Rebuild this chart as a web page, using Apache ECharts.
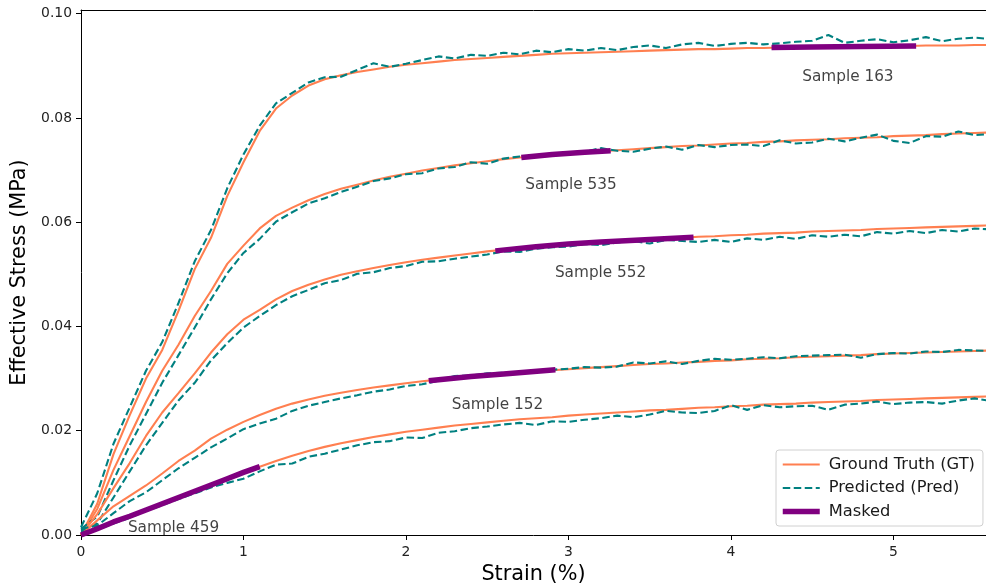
<!DOCTYPE html>
<html>
<head>
<meta charset="utf-8">
<script src="https://cdn.jsdelivr.net/npm/echarts@6/dist/echarts.min.js"></script>
<style>
  html, body { margin: 0; padding: 0; background: #ffffff; }
  #chart { width: 986px; height: 585px; }
</style>
</head>
<body>
<div id="chart"></div>
<script>
// Strain grid shared by all curves (%)
const strain = [0.0, 0.1, 0.2, 0.3, 0.4, 0.5, 0.6, 0.7, 0.8, 0.9,
  1.0, 1.1, 1.2, 1.3, 1.4, 1.5, 1.6, 1.7, 1.8, 1.9,
  2.0, 2.1, 2.2, 2.3, 2.4, 2.5, 2.6, 2.7, 2.8, 2.9,
  3.0, 3.1, 3.2, 3.3, 3.4, 3.5, 3.6, 3.7, 3.8, 3.9,
  4.0, 4.1, 4.2, 4.3, 4.4, 4.5, 4.6, 4.7, 4.8, 4.9,
  5.0, 5.1, 5.2, 5.3, 5.4, 5.5, 5.6];

// Sample 163
const gt163 = [0.0, 0.006, 0.0155, 0.023, 0.030, 0.0355, 0.043, 0.051, 0.057, 0.065,
  0.0715, 0.0775, 0.0818, 0.0843, 0.0862, 0.0874, 0.0882, 0.0888, 0.0893, 0.0898,
  0.0902, 0.0905, 0.0908, 0.0911, 0.0913, 0.0915, 0.0917, 0.0919, 0.0921, 0.0923,
  0.0924, 0.0925, 0.0926, 0.0927, 0.0928, 0.0929, 0.0930, 0.0931, 0.0932, 0.0932,
  0.0933, 0.0934, 0.0934, 0.0935, 0.0935, 0.0936, 0.0936, 0.0937, 0.0937, 0.0938,
  0.0938, 0.0938, 0.0939, 0.0939, 0.0939, 0.0940, 0.0940];
const pred163 = [0.0015, 0.008, 0.0175, 0.0245, 0.0315, 0.037, 0.0445, 0.0525, 0.0585, 0.0665,
  0.073, 0.0785, 0.0828, 0.0848, 0.0868, 0.0878, 0.0879, 0.0892, 0.0905, 0.0898,
  0.0904, 0.0911, 0.0918, 0.0914, 0.0921, 0.0919, 0.0925, 0.0922, 0.0929, 0.0926,
  0.0932, 0.0929, 0.0934, 0.0930, 0.0936, 0.0939, 0.0934, 0.0941, 0.0944, 0.0938,
  0.0942, 0.0944, 0.0941, 0.0943, 0.0946, 0.0948, 0.0959, 0.0944, 0.0948, 0.0951,
  0.0945, 0.0949, 0.0955, 0.0947, 0.0952, 0.0954, 0.0951];
const maskStrain163 = [4.25, 4.5, 4.8, 5.14];
const maskStress163 = [0.0935, 0.0936, 0.0937, 0.0938];

// Sample 535
const gt535 = [0.0, 0.005, 0.0125, 0.019, 0.0255, 0.0315, 0.0365, 0.042, 0.0468, 0.052,
  0.0555, 0.0588, 0.0612, 0.0628, 0.0642, 0.0654, 0.0664, 0.0672, 0.0680, 0.0687,
  0.0693, 0.0699, 0.0704, 0.0709, 0.0713, 0.0717, 0.0721, 0.0724, 0.0727, 0.0730,
  0.0732, 0.0734, 0.0736, 0.0738, 0.0740, 0.0742, 0.0744, 0.0746, 0.0747, 0.0749,
  0.0751, 0.0752, 0.0754, 0.0755, 0.0757, 0.0758, 0.0759, 0.0761, 0.0762, 0.0763,
  0.0765, 0.0766, 0.0767, 0.0769, 0.0770, 0.0771, 0.0772];
const pred535 = [0.0012, 0.0035, 0.0105, 0.0172, 0.0232, 0.0292, 0.0345, 0.0398, 0.0452, 0.0502,
  0.0541, 0.0568, 0.0601, 0.0619, 0.0636, 0.0646, 0.0658, 0.0668, 0.0679, 0.0684,
  0.0692, 0.0694, 0.0703, 0.0706, 0.0715, 0.0712, 0.0722, 0.0726, 0.0728, 0.0731,
  0.0733, 0.0735, 0.0742, 0.0737, 0.0735, 0.0741, 0.0745, 0.0739, 0.0748, 0.0744,
  0.0748, 0.0749, 0.0746, 0.0757, 0.0751, 0.0753, 0.0760, 0.0755, 0.0762, 0.0768,
  0.0756, 0.0752, 0.0765, 0.0764, 0.0774, 0.0767, 0.0769];
const maskStrain535 = [2.71, 2.9, 3.1, 3.26];
const maskStress535 = [0.0724, 0.0730, 0.0734, 0.0737];

// Sample 552
const gt552 = [0.0, 0.004, 0.009, 0.0138, 0.019, 0.0235, 0.0272, 0.031, 0.035, 0.0385,
  0.0413, 0.0432, 0.0452, 0.0468, 0.0480, 0.0490, 0.0499, 0.0506, 0.0512, 0.0518,
  0.0523, 0.0528, 0.0532, 0.0536, 0.0540, 0.0544, 0.0547, 0.0550, 0.0553, 0.0556,
  0.0558, 0.0560, 0.0562, 0.0564, 0.0566, 0.0567, 0.0569, 0.0570, 0.0572, 0.0573,
  0.0575, 0.0576, 0.0578, 0.0579, 0.0580, 0.0582, 0.0583, 0.0584, 0.0585, 0.0587,
  0.0588, 0.0589, 0.0590, 0.0591, 0.0592, 0.0593, 0.0594];
const pred552 = [0.0008, 0.0022, 0.0072, 0.0122, 0.0172, 0.0215, 0.0258, 0.0292, 0.0335, 0.0368,
  0.0398, 0.0420, 0.0441, 0.0458, 0.0470, 0.0483, 0.0489, 0.0501, 0.0504, 0.0512,
  0.0516, 0.0524, 0.0525, 0.0530, 0.0534, 0.0538, 0.0544, 0.0543, 0.0549, 0.0552,
  0.0553, 0.0558, 0.0556, 0.0561, 0.0564, 0.0559, 0.0566, 0.0564, 0.0562, 0.0566,
  0.0562, 0.0569, 0.0566, 0.0572, 0.0568, 0.0575, 0.0572, 0.0576, 0.0573, 0.0581,
  0.0578, 0.0583, 0.0579, 0.0585, 0.0582, 0.0588, 0.0586];
const maskStrain552 = [2.55, 2.8, 3.0, 3.2, 3.5, 3.77];
const maskStress552 = [0.0545, 0.0553, 0.0558, 0.0562, 0.0567, 0.0571];

// Sample 152
const gt152 = [0.0, 0.0028, 0.0055, 0.0075, 0.0095, 0.0118, 0.0142, 0.0162, 0.0185, 0.0202,
  0.0217, 0.0230, 0.0242, 0.0252, 0.0260, 0.0267, 0.0273, 0.0278, 0.0283, 0.0287,
  0.0291, 0.0295, 0.0298, 0.0301, 0.0304, 0.0307, 0.0309, 0.0312, 0.0314, 0.0316,
  0.0318, 0.0320, 0.0322, 0.0324, 0.0326, 0.0328, 0.0329, 0.0331, 0.0332, 0.0334,
  0.0335, 0.0337, 0.0338, 0.0339, 0.0341, 0.0342, 0.0343, 0.0344, 0.0345, 0.0347,
  0.0348, 0.0349, 0.0350, 0.0351, 0.0352, 0.0353, 0.0354];
const pred152 = [0.0012, 0.0018, 0.0042, 0.0065, 0.0082, 0.0105, 0.0128, 0.0148, 0.0168, 0.0185,
  0.0203, 0.0214, 0.0223, 0.0238, 0.0248, 0.0255, 0.0262, 0.0268, 0.0275, 0.0279,
  0.0286, 0.0289, 0.0296, 0.0305, 0.0306, 0.0310, 0.0311, 0.0313, 0.0315, 0.0317,
  0.0319, 0.0322, 0.0321, 0.0323, 0.0331, 0.0329, 0.0333, 0.0328, 0.0334, 0.0338,
  0.0336, 0.0338, 0.0341, 0.0339, 0.0343, 0.0344, 0.0345, 0.0346, 0.0340, 0.0347,
  0.0349, 0.0348, 0.0352, 0.0351, 0.0355, 0.0354, 0.0353];
const maskStrain152 = [2.14, 2.4, 2.6, 2.92];
const maskStress152 = [0.0296, 0.0304, 0.0309, 0.0317];

// Sample 459
const gt459 = [0.0, 0.0012, 0.0025, 0.0036, 0.0048, 0.0060, 0.0072, 0.0084, 0.0096, 0.0108,
  0.0120, 0.0131, 0.0142, 0.0152, 0.0161, 0.0169, 0.0176, 0.0182, 0.0188, 0.0193,
  0.0198, 0.0202, 0.0206, 0.0210, 0.0213, 0.0216, 0.0219, 0.0222, 0.0224, 0.0226,
  0.0229, 0.0231, 0.0233, 0.0235, 0.0237, 0.0239, 0.0240, 0.0242, 0.0244, 0.0245,
  0.0247, 0.0248, 0.0250, 0.0251, 0.0252, 0.0254, 0.0255, 0.0256, 0.0257, 0.0259,
  0.0260, 0.0261, 0.0262, 0.0263, 0.0264, 0.0265, 0.0266];
const pred459 = [0.0005, 0.0010, 0.0022, 0.0033, 0.0046, 0.0057, 0.0069, 0.0080, 0.0091, 0.0100,
  0.0108, 0.0122, 0.0135, 0.0137, 0.0150, 0.0156, 0.0164, 0.0172, 0.0178, 0.0180,
  0.0187, 0.0186, 0.0196, 0.0199, 0.0205, 0.0208, 0.0212, 0.0215, 0.0211, 0.0218,
  0.0217, 0.0221, 0.0224, 0.0229, 0.0226, 0.0231, 0.0238, 0.0235, 0.0234, 0.0238,
  0.0249, 0.0240, 0.0249, 0.0245, 0.0247, 0.0248, 0.0240, 0.0250, 0.0252, 0.0256,
  0.0251, 0.0254, 0.0255, 0.0252, 0.0258, 0.0262, 0.0257];
const maskStrain459 = [0.0, 0.1, 0.2, 0.3, 0.4, 0.5, 0.6, 0.7, 0.8, 0.9, 1.0, 1.1];
const maskStress459 = [0.0, 0.0012, 0.0025, 0.0036, 0.0048, 0.0060, 0.0072, 0.0084, 0.0096, 0.0108, 0.0120, 0.0131];

// Sample annotations (data coordinates)
const sampleNames = ['Sample 163', 'Sample 535', 'Sample 552', 'Sample 152', 'Sample 459'];
const tagStrain = [4.72, 3.016, 3.198, 2.563, 0.57];
const tagStress = [0.0878, 0.0672, 0.0503, 0.0249, 0.0013];

// Axis ticks
const xTicks = [0, 1, 2, 3, 4, 5];
const yTicks = [0, 0.02, 0.04, 0.06, 0.08, 0.10];

const FONT = 'DejaVu Sans';
const GT_COLOR = '#FF7F50';
const PRED_COLOR = '#008080';
const MASK_COLOR = '#800080';

function pairs(xs, ys) {
  return xs.map((x, i) => [x, ys[i]]);
}

const samples = [
  { gt: gt163, pred: pred163, mx: maskStrain163, my: maskStress163 },
  { gt: gt535, pred: pred535, mx: maskStrain535, my: maskStress535 },
  { gt: gt552, pred: pred552, mx: maskStrain552, my: maskStress552 },
  { gt: gt152, pred: pred152, mx: maskStrain152, my: maskStress152 },
  { gt: gt459, pred: pred459, mx: maskStrain459, my: maskStress459 }
];

const series = [];
samples.forEach((s, k) => {
  series.push({
    type: 'line', name: 'Ground Truth (GT)', data: pairs(strain, s.gt),
    symbol: 'none', showSymbol: false, silent: true,
    lineStyle: { color: GT_COLOR, width: 2.1 }, itemStyle: { color: GT_COLOR },
    z: 2 + k * 3
  });
  series.push({
    type: 'line', name: 'Predicted (Pred)', data: pairs(strain, s.pred),
    symbol: 'none', showSymbol: false, silent: true,
    lineStyle: { color: PRED_COLOR, width: 2.1, type: [7.5, 3.5] }, itemStyle: { color: PRED_COLOR },
    z: 3 + k * 3
  });
  series.push({
    type: 'line', name: 'Masked', data: pairs(s.mx, s.my),
    symbol: 'none', showSymbol: false, silent: true,
    lineStyle: { color: MASK_COLOR, width: 5.5, cap: 'butt' }, itemStyle: { color: MASK_COLOR },
    z: 4 + k * 3
  });
});

series.push({
  type: 'scatter', name: 'tags', silent: true, symbolSize: 0, z: 40,
  data: sampleNames.map((n, i) => ({ name: n, value: [tagStrain[i], tagStress[i]] })),
  label: { show: true, position: 'inside', formatter: '{b}', fontFamily: FONT, fontSize: 15.3, color: '#111' }
});

const chart = echarts.init(document.getElementById('chart'), null, { renderer: 'canvas' });
chart.setOption({
  animation: false,
  backgroundColor: '#ffffff',
  grid: { left: 81, right: 0, top: 10, bottom: 50, show: false, outerBoundsMode: 'none', containLabel: false },
  xAxis: [{
    type: 'value', min: 0, max: 5.57,
    name: 'Strain (%)', nameLocation: 'middle', nameGap: 29,
    nameTextStyle: { fontFamily: FONT, fontSize: 20.8, color: '#000' },
    axisLine: { lineStyle: { color: '#000', width: 1 } },
    axisTick: { show: true, length: 5, customValues: xTicks, lineStyle: { color: '#000' } },
    axisLabel: { customValues: xTicks, fontFamily: FONT, fontSize: 13.9, color: '#222', margin: 10 },
    splitLine: { show: false }
  }, {
    // top frame line
    type: 'value', position: 'top', min: 0, max: 5.57,
    axisLine: { show: true, lineStyle: { color: '#000', width: 1 } },
    axisTick: { show: false }, axisLabel: { show: false }, splitLine: { show: false }
  }],
  yAxis: {
    type: 'value', min: 0, max: 0.1007,
    name: 'Effective Stress (MPa)', nameLocation: 'middle', nameGap: 38,
    nameTextStyle: { fontFamily: FONT, fontSize: 20.8, color: '#000' },
    axisLine: { show: true, lineStyle: { color: '#000', width: 1 } },
    axisTick: { show: true, length: 5, customValues: yTicks, lineStyle: { color: '#000' } },
    axisLabel: { customValues: yTicks, formatter: v => v.toFixed(2), fontFamily: FONT, fontSize: 13.9, color: '#222', margin: 9 },
    splitLine: { show: false }
  },
  legend: {
    data: [
      { name: 'Ground Truth (GT)' },
      { name: 'Predicted (Pred)' },
      { name: 'Masked', lineStyle: { width: 5.5 } }
    ],
    orient: 'vertical', left: 776, top: 450,
    itemWidth: 37, itemHeight: 14, itemGap: 4.5,
    selectedMode: false,
    itemStyle: { color: 'rgba(0,0,0,0)', borderWidth: 0, opacity: 0 },
    textStyle: { fontFamily: FONT, fontSize: 16.3, color: '#1a1a1a', lineHeight: 19, padding: [0, 0, 0, 4] },
    backgroundColor: 'rgba(255,255,255,0.85)', borderColor: '#d0d0d0', borderWidth: 1, borderRadius: 3,
    padding: [5, 8, 5, 4]
  },
  series: series
});
</script>
</body>
</html>
